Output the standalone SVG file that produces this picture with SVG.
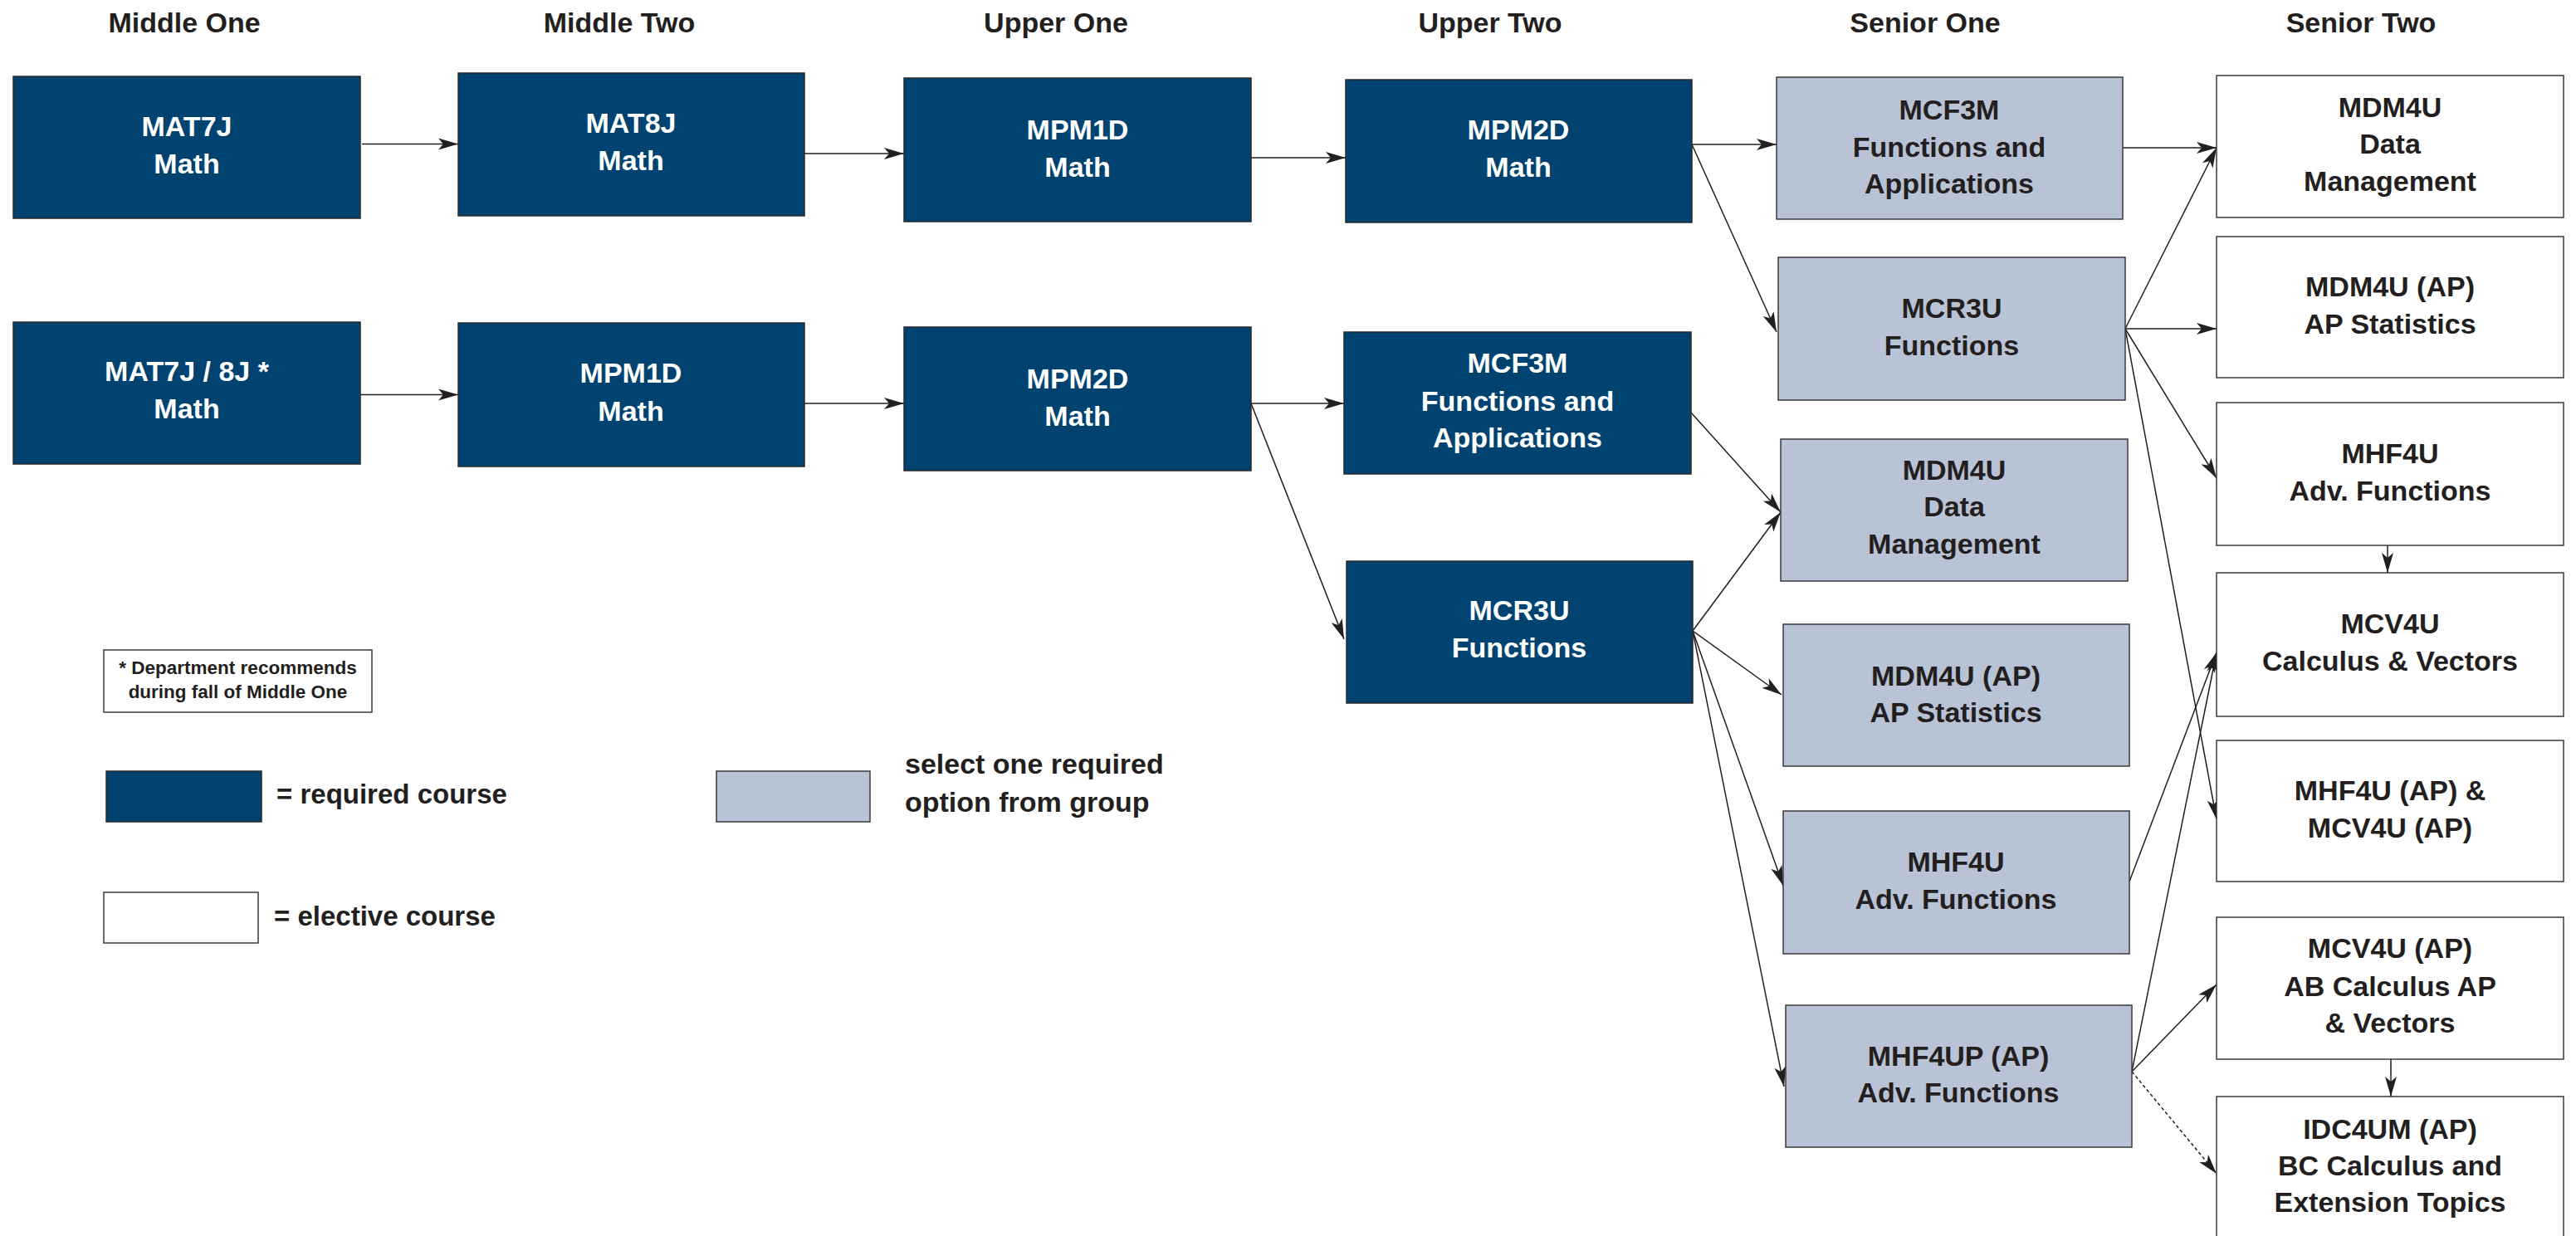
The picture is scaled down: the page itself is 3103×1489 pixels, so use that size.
<svg xmlns="http://www.w3.org/2000/svg" width="3103" height="1489" viewBox="0 0 3103 1489">
<style>
text{font-family:"Liberation Sans",Arial,sans-serif;font-weight:bold;font-size:34px;text-anchor:middle;fill:#231f20}
.req rect{fill:#004370;stroke:#2a2a2a;stroke-width:1.5}
.req text{fill:#ffffff}
.opt rect{fill:#b8c3d5;stroke:#3a3a3a;stroke-width:1.5}
.ele rect{fill:#ffffff;stroke:#3a3a3a;stroke-width:1.5}
.hdr{font-size:34px}
#connectors line{stroke:#231f20;stroke-width:1.5;fill:none;marker-end:url(#ah)}
#connectors line.dash{stroke-dasharray:4 3}
.lg{text-anchor:start;font-size:33px}
.lg2{text-anchor:start;font-size:34px}
.note{font-size:22.5px}
</style>
<defs>
<marker id="ah" markerUnits="userSpaceOnUse" markerWidth="24" markerHeight="14" refX="24" refY="7" orient="auto" overflow="visible">
<path d="M0,0 L24,7 L0,14 L6,7 z" fill="#231f20"/>
</marker>
</defs>
<rect x="0" y="0" width="3103" height="1489" fill="#ffffff"/>

<g id="headers">
<text class="hdr" x="222" y="39">Middle One</text>
<text class="hdr" x="746" y="39">Middle Two</text>
<text class="hdr" x="1272" y="39">Upper One</text>
<text class="hdr" x="1795" y="39">Upper Two</text>
<text class="hdr" x="2319" y="39">Senior One</text>
<text class="hdr" x="2844" y="39">Senior Two</text>
</g>

<g id="connectors">
<line x1="436" y1="173.5" x2="552" y2="173.5"/>
<line x1="434" y1="475.5" x2="552" y2="475.5"/>
<line x1="969" y1="185" x2="1089" y2="185"/>
<line x1="969" y1="486" x2="1089" y2="486"/>
<line x1="1507" y1="190" x2="1621" y2="190"/>
<line x1="1507" y1="486" x2="1619" y2="486"/>
<line x1="1507" y1="486" x2="1619" y2="770"/>
<line x1="2038" y1="174" x2="2140" y2="174"/>
<line x1="2038" y1="174" x2="2140" y2="400"/>
<line x1="2037" y1="497" x2="2145" y2="617"/>
<line x1="2039" y1="760" x2="2145" y2="617"/>
<line x1="2039" y1="760" x2="2146" y2="837"/>
<line x1="2039" y1="760" x2="2148" y2="1067"/>
<line x1="2039" y1="760" x2="2149" y2="1309"/>
<line x1="2557" y1="178" x2="2670" y2="178"/>
<line x1="2560" y1="396" x2="2670" y2="178"/>
<line x1="2560" y1="396" x2="2670" y2="396"/>
<line x1="2560" y1="396" x2="2670" y2="576"/>
<line x1="2560" y1="396" x2="2670" y2="987"/>
<line x1="2876" y1="657" x2="2876" y2="690"/>
<line x1="2565" y1="1062" x2="2670" y2="786"/>
<line x1="2568" y1="1291" x2="2670" y2="786"/>
<line x1="2568" y1="1291" x2="2670" y2="1186"/>
<line class="dash" x1="2568" y1="1291" x2="2670" y2="1414"/>
<line x1="2880" y1="1276" x2="2880" y2="1321"/>
</g>

<g id="n-mat7j" class="req"><rect x="16" y="92" width="418" height="171"/><text x="225" y="164">MAT7J</text><text x="225" y="209">Math</text></g>
<g id="n-mat7j8j" class="req"><rect x="16" y="388" width="418" height="171"/><text x="225" y="459">MAT7J / 8J *</text><text x="225" y="504">Math</text></g>
<g id="n-mat8j" class="req"><rect x="552" y="88" width="417" height="172"/><text x="760" y="160">MAT8J</text><text x="760" y="205">Math</text></g>
<g id="n-mpm1d-m2" class="req"><rect x="552" y="389" width="417" height="173"/><text x="760" y="461">MPM1D</text><text x="760" y="507">Math</text></g>
<g id="n-mpm1d-u1" class="req"><rect x="1089" y="94" width="418" height="173"/><text x="1298" y="168">MPM1D</text><text x="1298" y="213">Math</text></g>
<g id="n-mpm2d-u1" class="req"><rect x="1089" y="394" width="418" height="173"/><text x="1298" y="468">MPM2D</text><text x="1298" y="513">Math</text></g>
<g id="n-mpm2d-u2" class="req"><rect x="1621" y="96" width="417" height="172"/><text x="1829" y="168">MPM2D</text><text x="1829" y="213">Math</text></g>
<g id="n-mcf3m-u2" class="req"><rect x="1619" y="400" width="418" height="171"/><text x="1828" y="449">MCF3M</text><text x="1828" y="495">Functions and</text><text x="1828" y="539">Applications</text></g>
<g id="n-mcr3u-u2" class="req"><rect x="1622" y="676" width="417" height="171"/><text x="1830" y="747">MCR3U</text><text x="1830" y="792">Functions</text></g>

<g id="n-mcf3m-s1" class="opt"><rect x="2140" y="93" width="417" height="171"/><text x="2348" y="144">MCF3M</text><text x="2348" y="189">Functions and</text><text x="2348" y="233">Applications</text></g>
<g id="n-mcr3u-s1" class="opt"><rect x="2142" y="310" width="418" height="172"/><text x="2351" y="383">MCR3U</text><text x="2351" y="428">Functions</text></g>
<g id="n-mdm4u-s1" class="opt"><rect x="2145" y="529" width="418" height="171"/><text x="2354" y="578">MDM4U</text><text x="2354" y="622">Data</text><text x="2354" y="667">Management</text></g>
<g id="n-mdm4uap-s1" class="opt"><rect x="2148" y="752" width="417" height="171"/><text x="2356" y="826">MDM4U (AP)</text><text x="2356" y="870">AP Statistics</text></g>
<g id="n-mhf4u-s1" class="opt"><rect x="2148" y="977" width="417" height="172"/><text x="2356" y="1050">MHF4U</text><text x="2356" y="1095">Adv. Functions</text></g>
<g id="n-mhf4upap-s1" class="opt"><rect x="2151" y="1211" width="417" height="171"/><text x="2359" y="1284">MHF4UP (AP)</text><text x="2359" y="1328">Adv. Functions</text></g>

<g id="n-mdm4u-s2" class="ele"><rect x="2670" y="91" width="418" height="171"/><text x="2879" y="141">MDM4U</text><text x="2879" y="185">Data</text><text x="2879" y="230">Management</text></g>
<g id="n-mdm4uap-s2" class="ele"><rect x="2670" y="285" width="418" height="170"/><text x="2879" y="357">MDM4U (AP)</text><text x="2879" y="402">AP Statistics</text></g>
<g id="n-mhf4u-s2" class="ele"><rect x="2670" y="485" width="418" height="172"/><text x="2879" y="558">MHF4U</text><text x="2879" y="603">Adv. Functions</text></g>
<g id="n-mcv4u-s2" class="ele"><rect x="2670" y="690" width="418" height="173"/><text x="2879" y="763">MCV4U</text><text x="2879" y="808">Calculus &amp; Vectors</text></g>
<g id="n-mhf4uap-mcv4uap" class="ele"><rect x="2670" y="892" width="418" height="170"/><text x="2879" y="964">MHF4U (AP) &amp;</text><text x="2879" y="1009">MCV4U (AP)</text></g>
<g id="n-mcv4uap" class="ele"><rect x="2670" y="1105" width="418" height="171"/><text x="2879" y="1154">MCV4U (AP)</text><text x="2879" y="1200">AB Calculus AP</text><text x="2879" y="1244">&amp; Vectors</text></g>
<g id="n-idc4um" class="ele"><rect x="2670" y="1321" width="418" height="172"/><text x="2879" y="1372">IDC4UM (AP)</text><text x="2879" y="1416">BC Calculus and</text><text x="2879" y="1460">Extension Topics</text></g>

<g id="legend">
<g id="note" class="ele"><rect x="125" y="783" width="323" height="75"/><text class="note" x="286.5" y="812">* Department recommends</text><text class="note" x="286.5" y="841">during fall of Middle One</text></g>
<g id="lg-req" class="req"><rect x="128" y="929" width="187" height="61"/></g>
<text class="lg" x="333" y="968">= required course</text>
<g id="lg-opt" class="opt"><rect x="863" y="929" width="185" height="61"/></g>
<text class="lg2" x="1090" y="932">select one required</text>
<text class="lg2" x="1090" y="978">option from group</text>
<g id="lg-ele" class="ele"><rect x="125" y="1075" width="186" height="61"/></g>
<text class="lg" x="330" y="1115">= elective course</text>
</g>
</svg>
